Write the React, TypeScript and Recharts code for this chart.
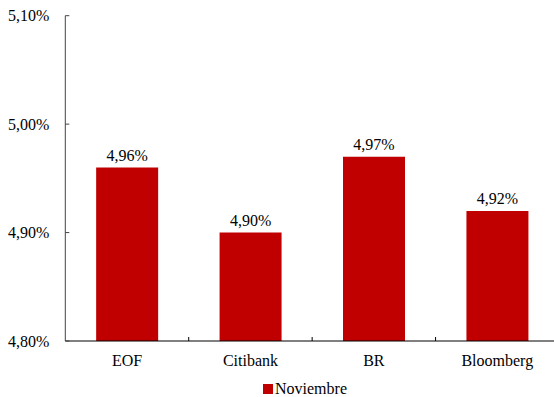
import { BarChart, Bar, XAxis, YAxis, Legend, LabelList } from 'recharts';

const categories = ['EOF', 'Citibank', 'BR', 'Bloomberg'];
const noviembre = [4.96, 4.9, 4.97, 4.92];
const yTicks = [4.8, 4.9, 5.0, 5.1];
const seriesName = 'Noviembre';

const FONT = 'Liberation Serif, DejaVu Serif';
const RED = '#C00000';

const data = categories.map((name, i) => ({ name, value: noviembre[i] }));

const fmt = (v: number) => v.toFixed(2).replace('.', ',') + '%';

function CategoryTick(props: any) {
  const { x, y, payload, index, visibleTicksCount } = props;
  const half = payload?.offset || 61.7;
  const axisY = y - 14;
  return (
    <g>
      <text x={x} y={y} dy="0.71em" textAnchor="middle" fontSize={16} fill="#000" fontFamily={FONT}>
        {payload.value}
      </text>
      {index > 0 && (
        <line x1={x - half} x2={x - half} y1={axisY} y2={axisY - 4} stroke="#000" />
      )}
      {index === visibleTicksCount - 1 && (
        <line x1={x + half} x2={x + half} y1={axisY} y2={axisY - 4} stroke="#000" />
      )}
    </g>
  );
}

function LegendContent() {
  return (
    <div style={{ display: 'flex', justifyContent: 'center', alignItems: 'center', height: 20, paddingTop: 3, boxSizing: 'border-box', fontFamily: FONT, fontSize: 16, color: '#000' }}>
      <span style={{ width: 10, height: 10, background: RED, marginRight: 2, display: 'inline-block' }} />
      <span>{seriesName}</span>
    </div>
  );
}

export default function App() {
  return (
    <div style={{ position: 'fixed', top: 0, left: 0, width: 554, height: 397, overflow: 'hidden', background: '#fff' }}>
      <BarChart
        width={610}
        height={397}
        data={data}
        margin={{ top: 15.7, right: 51, left: 0, bottom: 0 }}
        barCategoryGap="25%"
      >
        <XAxis
          dataKey="name"
          height={36}
          axisLine={{ stroke: '#000' }}
          tickLine={false}
          tickSize={0}
          tickMargin={14}
          tick={<CategoryTick />}
          interval={0}
        />
        <YAxis
          width={65.3}
          domain={[4.8, 5.1]}
          ticks={yTicks}
          tickFormatter={fmt}
          axisLine={{ stroke: '#444' }}
          tickLine={{ stroke: '#444' }}
          tickSize={-4}
          tickMargin={20}
          tick={{ fontSize: 16, fill: '#000', fontFamily: FONT }}
          allowDataOverflow
        />
        <Legend
          verticalAlign="bottom"
          height={20}
          wrapperStyle={{ left: 0, width: 610 }}
          content={<LegendContent />}
        />
        <Bar dataKey="value" name={seriesName} fill={RED} isAnimationActive={false}>
          <LabelList
            dataKey="value"
            position="top"
            offset={7}
            formatter={(v: any) => fmt(Number(v))}
            fontSize={16}
            fill="#000"
            fontFamily={FONT}
          />
        </Bar>
      </BarChart>
    </div>
  );
}
